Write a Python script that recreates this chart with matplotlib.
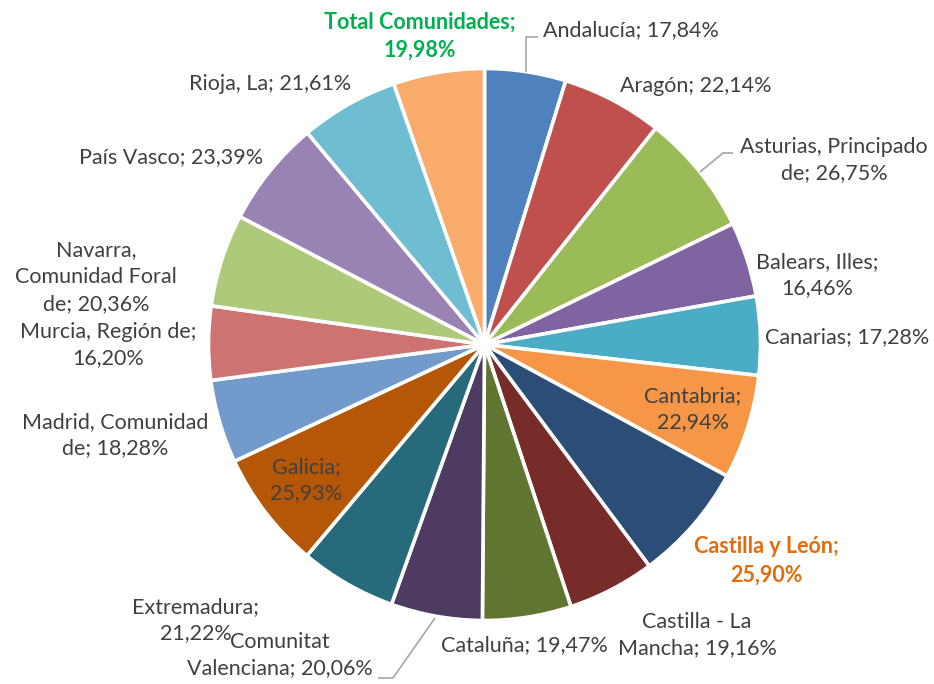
import matplotlib
matplotlib.use("Agg")
import matplotlib.pyplot as plt

# ---- data ----
regions = ["Andalucía", "Aragón", "Asturias, Principado de", "Balears, Illes",
           "Canarias", "Cantabria", "Castilla y León", "Castilla - La Mancha",
           "Cataluña", "Comunitat Valenciana", "Extremadura", "Galicia",
           "Madrid, Comunidad de", "Murcia, Región de", "Navarra, Comunidad Foral de",
           "País Vasco", "Rioja, La", "Total Comunidades"]
values = [17.84, 22.14, 26.75, 16.46, 17.28, 22.94, 25.90, 19.16, 19.47,
          20.06, 21.22, 25.93, 18.28, 16.20, 20.36, 23.39, 21.61, 19.98]

# label text split into lines as in the chart
label_lines = [
    ["Andalucía; 17,84%"],
    ["Aragón; 22,14%"],
    ["Asturias, Principado", "de; 26,75%"],
    ["Balears, Illes;", "16,46%"],
    ["Canarias; 17,28%"],
    ["Cantabria;", "22,94%"],
    ["Castilla y León;", "25,90%"],
    ["Castilla - La", "Mancha; 19,16%"],
    ["Cataluña; 19,47%"],
    ["Comunitat", "Valenciana; 20,06%"],
    ["Extremadura;", "21,22%"],
    ["Galicia;", "25,93%"],
    ["Madrid, Comunidad", "de; 18,28%"],
    ["Murcia, Región de;", "16,20%"],
    ["Navarra,", "Comunidad Foral", "de; 20,36%"],
    ["País Vasco; 23,39%"],
    ["Rioja, La; 21,61%"],
    ["Total Comunidades;", "19,98%"],
]

colors = ["#4F81BD", "#C0504D", "#9BBB59", "#8064A2", "#4BACC6", "#F79646",
          "#2C4D75", "#772C2A", "#5F7530", "#4D3B62", "#276A7C", "#B65708",
          "#729ACA", "#CD7371", "#AFC97A", "#9983B5", "#6FBDD1", "#F9AB6B"]

# ---- layout (pixel coordinates, y down) ----
W, H = 934, 684
cx, cy, R = 484.5, 344.5, 276
label_pos = [
    (631, 30), (696, 86), (834, 160), (817, 275), (847, 337), (693, 409),
    (766, 561), (697, 635), (524, 645), (280, 655), (196, 620), (306, 480),
    (115, 435), (108, 345), (96, 277), (171, 157), (270, 84), (420, 36),
]
special_color = {6: "#E46C0A", 17: "#00B050"}
leaders = {
    0: [(526, 72), (526, 37), (538, 37)],
    2: [(700, 172), (723, 153), (733, 153)],
    9: [(435, 618), (393, 678), (378, 678)],
}

fig = plt.figure(figsize=(W / 100, H / 100), dpi=100)
ax = fig.add_axes([0, 0, 1, 1])

ax.pie(values, colors=colors, startangle=270, counterclock=True,
       center=(cx, cy), radius=R,
       wedgeprops=dict(edgecolor="white", linewidth=2.6))

ax.set_xlim(0, W)
ax.set_ylim(H, 0)
ax.set_aspect("equal")
ax.axis("off")

font = "Lato"
fs = 15.5
for i, lines in enumerate(label_lines):
    x, y = label_pos[i]
    col = special_color.get(i, "#404040")
    weight = "bold" if i in special_color else "normal"
    ax.text(x, y, "\n".join(lines), ha="center", va="center", fontsize=fs,
            color=col, fontweight=weight, family=font, linespacing=1.42)

for i, pts in leaders.items():
    xs, ys = zip(*pts)
    ax.plot(xs, ys, color="#A6A6A6", linewidth=1.2, solid_capstyle="butt")

fig.savefig("out.png", dpi=100)
